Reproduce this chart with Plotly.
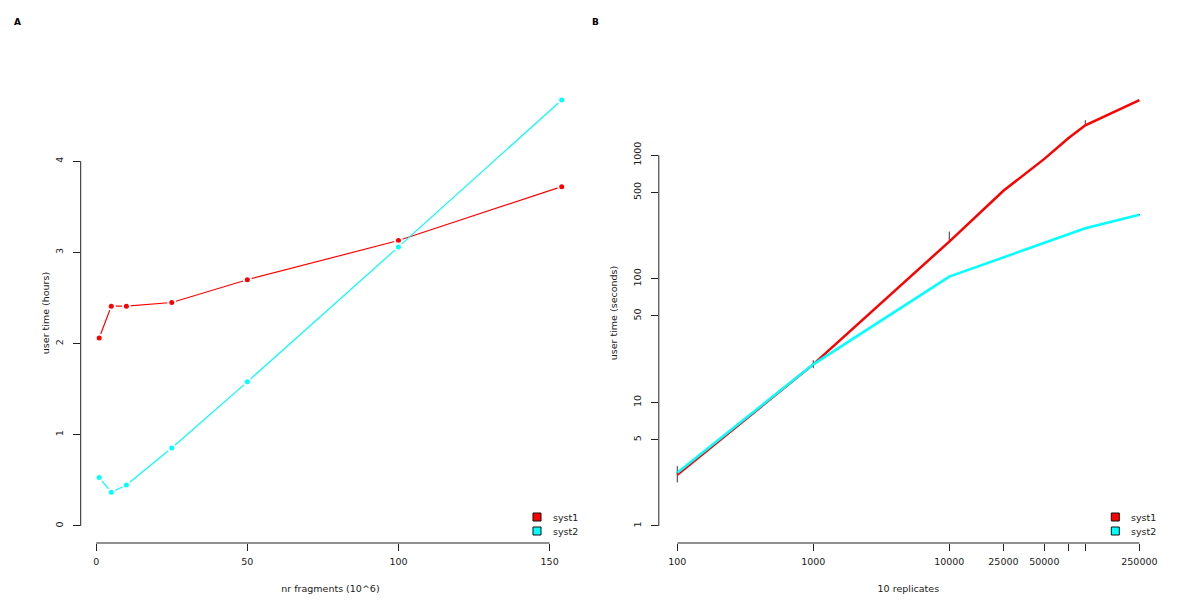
import numpy as np
import plotly.graph_objects as go

# ---------------- data ----------------
# Panel A
fragments = [1, 5, 10, 25, 50, 100, 154]              # nr fragments (10^6)
syst1_hours = [2.06, 2.41, 2.41, 2.45, 2.70, 3.13, 3.72]
syst2_hours = [0.53, 0.37, 0.45, 0.855, 1.58, 3.06, 4.67]
a_xticks = [0, 50, 100, 150]
a_yticks = [0, 1, 2, 3, 4]

# Panel B
replicates = [100, 1000, 10000, 25000, 50000, 75000, 100000, 250000]
syst1_sec = [2.6, 20.3, 200, 515, 933, 1371, 1746, 2793]
syst2_sec = [2.7, 20.3, 104, 149, 196, 229, 256, 330]
syst1_err_plus = [0.45, 1.6, 41, 5, 9, 13, 173, 0]
syst1_err_minus = [0.35, 1.4, 4, 5, 9, 13, 17, 0]
syst2_err_plus = [0.05, 0.3, 1.5, 2, 3, 3, 3, 4]
syst2_err_minus = [0.05, 0.3, 1.5, 2, 3, 3, 3, 4]
b_xticks = [100, 1000, 10000, 25000, 50000, 75000, 100000, 250000]
b_xticklabels = ["100", "1000", "10000", "25000", "50000", "", "", "250000"]
b_yticks = [1, 5, 10, 50, 100, 500, 1000]

series_names = ["syst1", "syst2"]
series_colors = ["#ff0000", "#00ffff"]

# ---------------- layout geometry ----------------
W, H = 1200, 614
FONT = "DejaVu Sans"
FS = 9.5
TXT = "#1a1a1a"


def fx(p):
    return p / W


def fy(p):
    return 1 - p / H


Y_TOP, Y_BOT = 83, 543
A_L, A_R = 80.7, 580.2
B_L, B_R = 658.8, 1157.9


def pad_range(lo, hi, f=0.04):
    s = hi - lo
    return [lo - f * s, hi + f * s]


a_xrange = pad_range(min(fragments), max(fragments))
a_yrange = pad_range(0, max(syst1_hours + syst2_hours))
b_xrange = pad_range(np.log10(min(replicates)), np.log10(max(replicates)))
b_yrange = pad_range(0, np.log10(max(syst1_sec + syst2_sec)))

fig = go.Figure()

# ---- Panel A: lines with gaps at points (R type="b") ----
for ys, col in zip([syst1_hours, syst2_hours], series_colors):
    fig.add_trace(go.Scatter(x=fragments, y=ys, mode="lines",
                             line=dict(color=col, width=1.2),
                             xaxis="x", yaxis="y", showlegend=False, hoverinfo="skip"))
    fig.add_trace(go.Scatter(x=fragments, y=ys, mode="markers",
                             marker=dict(color="white", size=9),
                             xaxis="x", yaxis="y", showlegend=False, hoverinfo="skip"))
    fig.add_trace(go.Scatter(x=fragments, y=ys, mode="markers",
                             marker=dict(color=col, size=5),
                             xaxis="x", yaxis="y", showlegend=False))

# ---- Panel B ----
for ys, ep, em, col in zip([syst1_sec, syst2_sec],
                           [syst1_err_plus, syst2_err_plus],
                           [syst1_err_minus, syst2_err_minus],
                           series_colors):
    fig.add_trace(go.Scatter(x=replicates, y=ys, mode="lines",
                             line=dict(color=col, width=2.5),
                             error_y=dict(type="data", array=ep, arrayminus=em,
                                          color="#333333", thickness=1, width=0),
                             xaxis="x2", yaxis="y2", showlegend=False))

common_axis = dict(showgrid=False, zeroline=False, showline=False,
                   ticks="outside", ticklen=7, tickwidth=1, tickcolor="#222",
                   tickfont=dict(family=FONT, size=FS, color=TXT),
                   automargin=False)

fig.update_layout(
    width=W, height=H,
    margin=dict(l=0, r=0, t=0, b=0),
    paper_bgcolor="white", plot_bgcolor="white",
    showlegend=False,
    font=dict(family=FONT, size=FS, color=TXT),
    xaxis=dict(domain=[fx(A_L), fx(A_R)], range=a_xrange, anchor="y",
               tickvals=a_xticks, ticktext=[str(v) for v in a_xticks],
               ticklabelstandoff=3,
               title=dict(text="nr fragments (10^6)", standoff=18,
                          font=dict(family=FONT, size=FS, color=TXT)),
               **common_axis),
    yaxis=dict(domain=[fy(Y_BOT), fy(Y_TOP)], range=a_yrange, anchor="x",
               tickvals=a_yticks, ticktext=[str(v) for v in a_yticks],
               tickangle=-90, ticklabelstandoff=6,
               title=dict(text="user time (hours)", standoff=2,
                          font=dict(family=FONT, size=FS, color=TXT)),
               **common_axis),
    xaxis2=dict(domain=[fx(B_L), fx(B_R)], type="log", range=b_xrange, anchor="y2",
                tickvals=b_xticks, ticktext=b_xticklabels,
                ticklabelstandoff=3,
                title=dict(text="10 replicates", standoff=18,
                           font=dict(family=FONT, size=FS, color=TXT)),
                **common_axis),
    yaxis2=dict(domain=[fy(Y_BOT), fy(Y_TOP)], type="log", range=b_yrange, anchor="x2",
                tickvals=b_yticks, ticktext=[str(v) for v in b_yticks],
                tickangle=-90, ticklabelstandoff=6,
                title=dict(text="user time (seconds)", standoff=12,
                           font=dict(family=FONT, size=FS, color=TXT)),
                **common_axis),
)

# R-style axis lines spanning only the tick range
ax_line = dict(color="#222", width=1)
fig.add_shape(type="line", xref="x", yref="y domain", x0=a_xticks[0], x1=a_xticks[-1],
              y0=0, y1=0, line=ax_line)
fig.add_shape(type="line", xref="x domain", yref="y", x0=0, x1=0,
              y0=a_yticks[0], y1=a_yticks[-1], line=ax_line)
fig.add_shape(type="line", xref="x2", yref="y2 domain",
              x0=b_xticks[0], x1=b_xticks[-1],
              y0=0, y1=0, line=ax_line)
fig.add_shape(type="line", xref="x2 domain", yref="y2", x0=0, x1=0,
              y0=b_yticks[0], y1=b_yticks[-1], line=ax_line)

# Legends (bottom right of each panel)
legend_pos = [(537, 550.7), (1115.3, 1129)]
legend_rows = [517, 531]
sq = 4
for sx, tx in legend_pos:
    for name, col, ry in zip(series_names, series_colors, legend_rows):
        fig.add_shape(type="rect", xref="paper", yref="paper",
                      x0=fx(sx - sq), x1=fx(sx + sq), y0=fy(ry + sq), y1=fy(ry - sq),
                      fillcolor=col, line=dict(color="#111", width=1))
        fig.add_annotation(xref="paper", yref="paper", x=fx(tx), y=fy(ry),
                           text=name, showarrow=False, xanchor="left", yanchor="middle",
                           font=dict(family=FONT, size=FS, color=TXT))

# Panel letters
for letter, px in [("A", 17), ("B", 595)]:
    fig.add_annotation(xref="paper", yref="paper", x=fx(px), y=fy(21.7),
                       text="<b>%s</b>" % letter, showarrow=False,
                       xanchor="center", yanchor="middle",
                       font=dict(family=FONT, size=9, color="#000"))

fig.write_html("out.html",
               config={"displayModeBar": False},
               post_script="document.body.style.margin='0px';"
                           "document.body.style.overflow='hidden';")
